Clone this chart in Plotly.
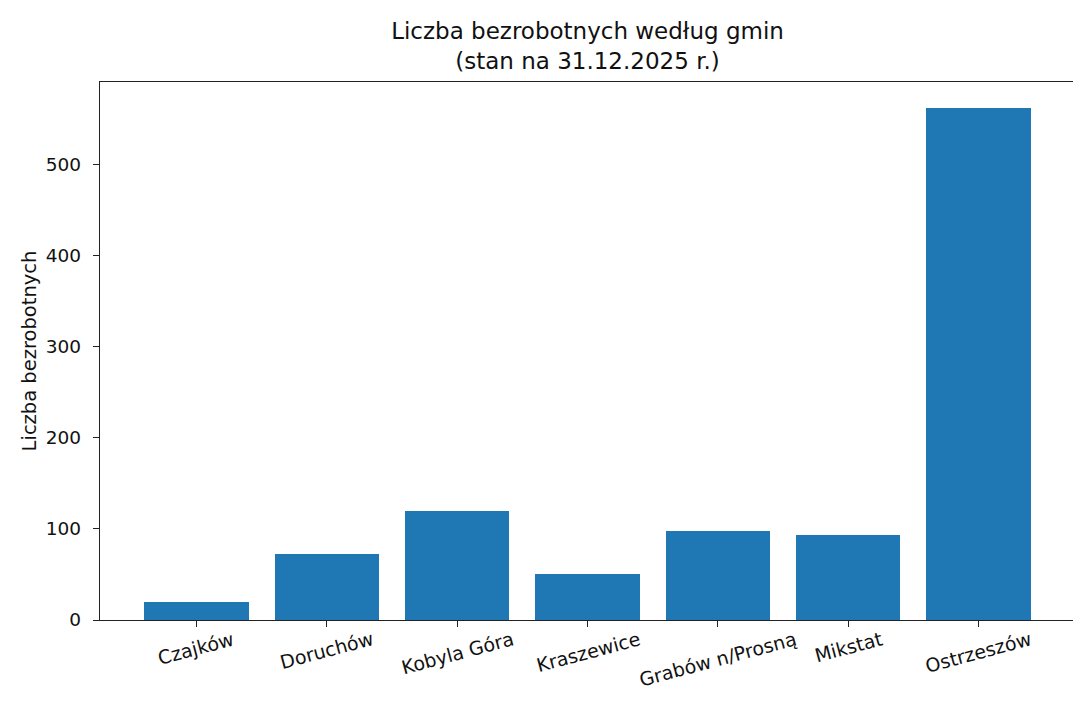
import plotly.graph_objects as go

gminy = ["Czajków", "Doruchów", "Kobyla Góra", "Kraszewice", "Grabów n/Prosną", "Mikstat", "Ostrzeszów"]
bezrobotni = [20, 73, 120, 51, 98, 93, 563]
y_ticks = [0, 100, 200, 300, 400, 500]

title_text = "Liczba bezrobotnych według gmin<br>(stan na 31.12.2025 r.)"
y_title = "Liczba bezrobotnych"

FONT = "DejaVu Sans"
TICK_SIZE = 19
YTICK_SIZE = 18.5
LABEL_SIZE = 19.5
TITLE_SIZE = 23

x_idx = list(range(len(gminy)))

fig = go.Figure()
fig.add_trace(go.Bar(
    x=x_idx,
    y=bezrobotni,
    width=0.8,
    marker=dict(color="#1f77b4", line=dict(width=0)),
    showlegend=False,
))

n = len(gminy)
pad = 0.05 * (n - 1 + 0.8)
fig.update_xaxes(
    range=[-0.4 - pad, n - 1 + 0.4 + pad],
    tickmode="array",
    tickvals=x_idx,
    ticktext=[""] * n,
    ticks="outside",
    ticklen=6,
    tickwidth=1.3,
    tickcolor="#222",
    showline=True,
    linecolor="#222",
    linewidth=1.3,
    mirror=True,
    showgrid=False,
    zeroline=False,
)
fig.update_yaxes(
    range=[0, max(bezrobotni) * 1.05],
    tickmode="array",
    tickvals=y_ticks,
    ticks="outside",
    ticklen=6,
    tickwidth=1.3,
    tickcolor="#222",
    ticklabelstandoff=8,
    tickfont=dict(family=FONT, size=YTICK_SIZE, color="#111"),
    showline=True,
    linecolor="#222",
    linewidth=1.3,
    mirror=True,
    showgrid=False,
    zeroline=False,
    title=dict(text=y_title, font=dict(family=FONT, size=LABEL_SIZE, color="#111"), standoff=4),
)

for i, name in zip(x_idx, gminy):
    fig.add_annotation(
        x=i, xref="x", y=0, yref="paper",
        text=name, showarrow=False,
        textangle=-15,
        xanchor="center", yanchor="top",
        yshift=-5,
        font=dict(family=FONT, size=TICK_SIZE, color="#111"),
    )

fig.update_layout(
    width=1081,
    height=707,
    margin=dict(l=92, r=14, t=74, b=95, autoexpand=False),
    paper_bgcolor="white",
    plot_bgcolor="white",
    bargap=0,
    title=dict(
        text=title_text,
        x=0.5, xref="paper", xanchor="center",
        y=1, yref="paper", yanchor="bottom",
        pad=dict(b=43),
        font=dict(family=FONT, size=TITLE_SIZE, color="#111"),
    ),
)

fig.write_html("out.html")
